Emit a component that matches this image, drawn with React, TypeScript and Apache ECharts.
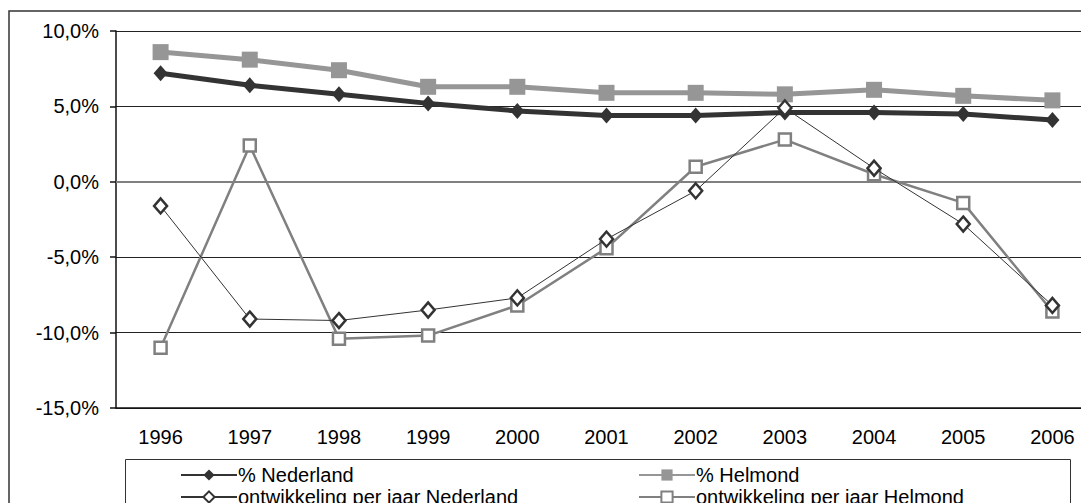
import React, { useEffect, useRef } from "react";
import * as echarts from "echarts";

const years = ["1996", "1997", "1998", "1999", "2000", "2001", "2002", "2003", "2004", "2005", "2006"];
const pctNederland = [7.2, 6.4, 5.8, 5.2, 4.7, 4.4, 4.4, 4.6, 4.6, 4.5, 4.1];
const pctHelmond = [8.6, 8.1, 7.4, 6.3, 6.3, 5.9, 5.9, 5.8, 6.1, 5.7, 5.4];
const ontwNederland = [-1.6, -9.1, -9.2, -8.5, -7.7, -3.8, -0.6, 4.9, 0.9, -2.8, -8.2];
const ontwHelmond = [-11.0, 2.4, -10.4, -10.2, -8.2, -4.4, 1.0, 2.8, 0.5, -1.4, -8.6];
const seriesNames = ["% Nederland", "% Helmond", "ontwikkeling per jaar Nederland", "ontwikkeling per jaar Helmond"];

const FONT = 'Arial, "Liberation Sans", Helvetica, sans-serif';

export default function App() {
  const ref = useRef<HTMLDivElement>(null);
  useEffect(() => {
    document.body.style.margin = "0";
    document.body.style.overflow = "hidden";
    const chart = echarts.init(ref.current!, null, { renderer: "svg" });
    const legendText = { fontSize: 20, lineHeight: 20, color: "#000", fontFamily: FONT, padding: [0, 0, 0, -4] };
    chart.setOption({
      animation: false,
      backgroundColor: "#ffffff",
      textStyle: { fontFamily: FONT },
      graphic: [
        {
          type: "rect",
          shape: { x: 9, y: 11, width: 1100, height: 520 },
          style: { fill: "none", stroke: "#333333", lineWidth: 1.5 },
          silent: true,
          z: 0,
        },
        {
          type: "rect",
          shape: { x: 125.5, y: 459.5, width: 945, height: 80 },
          style: { fill: "none", stroke: "#333333", lineWidth: 1 },
          silent: true,
          z: 0,
        },
      ],
      grid: { left: 116, top: 31, width: 981, height: 377, containLabel: false },
      legend: [
        {
          orient: "vertical",
          left: 175,
          top: 460,
          itemWidth: 56,
          itemHeight: 14,
          itemGap: 2,
          data: [seriesNames[0], seriesNames[2]],
          textStyle: legendText,
        },
        {
          orient: "vertical",
          left: 633,
          top: 460,
          itemWidth: 56,
          itemHeight: 14,
          itemGap: 2,
          data: [seriesNames[1], seriesNames[3]],
          textStyle: legendText,
        },
      ],
      xAxis: {
        type: "category",
        data: years,
        boundaryGap: true,
        axisLine: { show: true, onZero: false, lineStyle: { color: "#111", width: 1.5 } },
        axisTick: { show: false },
        axisLabel: { fontSize: 20, color: "#000", margin: 19, fontFamily: FONT },
      },
      yAxis: {
        type: "value",
        min: -15,
        max: 10,
        interval: 5,
        axisLine: { show: true, lineStyle: { color: "#111", width: 1.5 } },
        axisTick: { show: true, length: 6, lineStyle: { color: "#111", width: 1.5 } },
        axisLabel: {
          fontSize: 20,
          color: "#000",
          margin: 17,
          fontFamily: FONT,
          formatter: (v: number) => v.toFixed(1).replace(".", ",") + "%",
        },
        splitLine: { show: true, lineStyle: { color: "#222", width: 1.2 } },
      },
      series: [
        {
          name: seriesNames[0],
          type: "line",
          data: pctNederland,
          color: "#333333",
          symbol: "diamond",
          symbolSize: [14, 16],
          lineStyle: { color: "#333333", width: 5 },
          itemStyle: { color: "#333333" },
          z: 3,
          markLine: {
            silent: true,
            symbol: "none",
            label: { show: false },
            lineStyle: { color: "#808080", width: 2, type: "solid" },
            data: [{ yAxis: 0 }],
            z: 1,
          },
        },
        {
          name: seriesNames[1],
          type: "line",
          data: pctHelmond,
          color: "#969696",
          symbol: "rect",
          symbolSize: 16,
          lineStyle: { color: "#969696", width: 5 },
          itemStyle: { color: "#969696" },
          z: 3,
        },
        {
          name: seriesNames[2],
          type: "line",
          data: ontwNederland,
          color: "#333333",
          symbol: "diamond",
          symbolSize: [13, 15],
          lineStyle: { color: "#333333", width: 1 },
          itemStyle: { color: "#ffffff", borderColor: "#333333", borderWidth: 2.5 },
          z: 5,
        },
        {
          name: seriesNames[3],
          type: "line",
          data: ontwHelmond,
          color: "#808080",
          symbol: "rect",
          symbolSize: 12,
          lineStyle: { color: "#808080", width: 2.5 },
          itemStyle: { color: "#ffffff", borderColor: "#808080", borderWidth: 2.5 },
          z: 4,
        },
      ],
    });
    return () => chart.dispose();
  }, []);
  return (
    <div style={{ width: 1081, height: 503, overflow: "hidden", position: "relative" }}>
      <div ref={ref} style={{ width: 1120, height: 540 }} />
    </div>
  );
}
